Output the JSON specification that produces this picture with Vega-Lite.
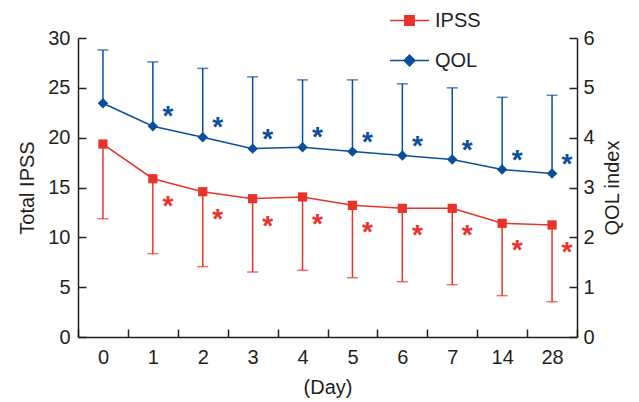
{
  "$schema": "https://vega.github.io/schema/vega-lite/v6.json",
  "width": 499,
  "height": 299,
  "autosize": {"type": "none"},
  "padding": {"left": 78, "top": 38, "right": 62, "bottom": 65},
  "background": "white",
  "config": {
    "view": {"stroke": null},
    "font": "Liberation Sans",
    "axis": {
      "grid": false,
      "domainColor": "#231f20",
      "domainWidth": 1.5,
      "tickColor": "#231f20",
      "tickWidth": 1.5,
      "tickSize": -8,
      "labelColor": "#231f20",
      "labelFontSize": 20,
      "labelFont": "Liberation Sans",
      "titleFont": "Liberation Sans",
      "titleFontSize": 20,
      "titleFontWeight": "normal",
      "titleColor": "#231f20"
    }
  },
  "data": {
    "values": [
      {"day": "0", "ipss": 19.36, "ipss_lo": 11.87, "qol": 4.69, "qol_hi": 5.76},
      {"day": "1", "ipss": 15.88, "ipss_lo": 8.36, "qol": 4.23, "qol_hi": 5.52},
      {"day": "2", "ipss": 14.58, "ipss_lo": 7.06, "qol": 4.01, "qol_hi": 5.39},
      {"day": "3", "ipss": 13.88, "ipss_lo": 6.52, "qol": 3.78, "qol_hi": 5.22},
      {"day": "4", "ipss": 14.05, "ipss_lo": 6.69, "qol": 3.81, "qol_hi": 5.16},
      {"day": "5", "ipss": 13.21, "ipss_lo": 5.95, "qol": 3.72, "qol_hi": 5.16},
      {"day": "6", "ipss": 12.91, "ipss_lo": 5.55, "qol": 3.64, "qol_hi": 5.08},
      {"day": "7", "ipss": 12.91, "ipss_lo": 5.25, "qol": 3.56, "qol_hi": 5.0},
      {"day": "14", "ipss": 11.41, "ipss_lo": 4.15, "qol": 3.36, "qol_hi": 4.81},
      {"day": "28", "ipss": 11.24, "ipss_lo": 3.54, "qol": 3.28, "qol_hi": 4.85}
    ]
  },
  "encoding": {
    "x": {
      "field": "day",
      "type": "ordinal",
      "sort": ["0", "1", "2", "3", "4", "5", "6", "7", "14", "28"],
      "scale": {"domain": ["0", "1", "2", "3", "4", "5", "6", "7", "14", "28"], "paddingInner": 0, "paddingOuter": 0},
      "axis": {"title": "(Day)", "labelAngle": 0, "tickBand": "extent", "labelPadding": 18, "titlePadding": 10}
    }
  },
  "layer": [
    {
      "layer": [
        {
          "mark": {"type": "rule", "color": "#e8332b", "strokeWidth": 1.5},
          "encoding": {
            "y": {"field": "ipss", "type": "quantitative", "scale": {"domain": [0, 30]}, "axis": {"orient": "left", "title": "Total IPSS", "values": [0, 5, 10, 15, 20, 25, 30], "labelPadding": 16, "titlePadding": 10}},
            "y2": {"field": "ipss_lo"}
          }
        },
        {
          "mark": {"type": "tick", "color": "#e8332b", "thickness": 1.5, "size": 11},
          "encoding": {
            "y": {"field": "ipss_lo", "type": "quantitative", "scale": {"domain": [0, 30]}, "axis": {"orient": "left", "title": "Total IPSS", "values": [0, 5, 10, 15, 20, 25, 30], "labelPadding": 16, "titlePadding": 10}}
          }
        },
        {
          "mark": {"type": "line", "color": "#e8332b", "strokeWidth": 1.5},
          "encoding": {
            "y": {"field": "ipss", "type": "quantitative", "scale": {"domain": [0, 30]}, "axis": {"orient": "left", "title": "Total IPSS", "values": [0, 5, 10, 15, 20, 25, 30], "labelPadding": 16, "titlePadding": 10}}
          }
        },
        {
          "mark": {"type": "point", "shape": "square", "filled": true, "opacity": 1, "size": 85, "color": "#e8332b"},
          "encoding": {
            "y": {"field": "ipss", "type": "quantitative", "scale": {"domain": [0, 30]}, "axis": {"orient": "left", "title": "Total IPSS", "values": [0, 5, 10, 15, 20, 25, 30], "labelPadding": 16, "titlePadding": 10}}
          }
        },
        {
          "transform": [{"filter": "datum.day !== '0'"}],
          "mark": {"type": "text", "text": "*", "font": "Liberation Sans", "fontSize": 28, "fontWeight": "bold", "color": "#e8332b", "baseline": "alphabetic", "align": "center", "dx": 15, "dy": 36},
          "encoding": {
            "y": {"field": "ipss", "type": "quantitative", "scale": {"domain": [0, 30]}, "axis": {"orient": "left", "title": "Total IPSS", "values": [0, 5, 10, 15, 20, 25, 30], "labelPadding": 16, "titlePadding": 10}}
          }
        }
      ]
    },
    {
      "layer": [
        {
          "mark": {"type": "rule", "color": "#0b4f9c", "strokeWidth": 1.5},
          "encoding": {
            "y": {"field": "qol", "type": "quantitative", "scale": {"domain": [0, 6]}, "axis": {"orient": "right", "title": "QOL index", "titleAngle": -90, "values": [0, 1, 2, 3, 4, 5, 6], "labelPadding": 14, "titlePadding": 28}},
            "y2": {"field": "qol_hi"}
          }
        },
        {
          "mark": {"type": "tick", "color": "#0b4f9c", "thickness": 1.5, "size": 11},
          "encoding": {
            "y": {"field": "qol_hi", "type": "quantitative", "scale": {"domain": [0, 6]}, "axis": {"orient": "right", "title": "QOL index", "titleAngle": -90, "values": [0, 1, 2, 3, 4, 5, 6], "labelPadding": 14, "titlePadding": 28}}
          }
        },
        {
          "mark": {"type": "line", "color": "#0b4f9c", "strokeWidth": 1.5},
          "encoding": {
            "y": {"field": "qol", "type": "quantitative", "scale": {"domain": [0, 6]}, "axis": {"orient": "right", "title": "QOL index", "titleAngle": -90, "values": [0, 1, 2, 3, 4, 5, 6], "labelPadding": 14, "titlePadding": 28}}
          }
        },
        {
          "mark": {"type": "point", "shape": "diamond", "filled": true, "opacity": 1, "size": 110, "color": "#0b4f9c"},
          "encoding": {
            "y": {"field": "qol", "type": "quantitative", "scale": {"domain": [0, 6]}, "axis": {"orient": "right", "title": "QOL index", "titleAngle": -90, "values": [0, 1, 2, 3, 4, 5, 6], "labelPadding": 14, "titlePadding": 28}}
          }
        },
        {
          "transform": [{"filter": "datum.day !== '0'"}],
          "mark": {"type": "text", "text": "*", "font": "Liberation Sans", "fontSize": 28, "fontWeight": "bold", "color": "#0b4f9c", "baseline": "alphabetic", "align": "center", "dx": 15, "dy": -1},
          "encoding": {
            "y": {"field": "qol", "type": "quantitative", "scale": {"domain": [0, 6]}, "axis": {"orient": "right", "title": "QOL index", "titleAngle": -90, "values": [0, 1, 2, 3, 4, 5, 6], "labelPadding": 14, "titlePadding": 28}}
          }
        }
      ]
    },
    {
      "data": {"values": [{"series": "IPSS"}, {"series": "QOL"}]},
      "transform": [{"filter": "false"}],
      "mark": {"type": "point", "filled": true},
      "encoding": {
        "x": {"value": 0},
        "color": {
          "field": "series",
          "type": "nominal",
          "scale": {"domain": ["IPSS", "QOL"], "range": ["#e8332b", "#0b4f9c"]},
          "legend": {
            "title": null,
            "orient": "none",
            "legendX": 311,
            "legendY": -38,
            "padding": 0,
            "symbolSize": 1521,
            "symbolStrokeWidth": 1.5,
            "symbolOpacity": 1,
            "labelFontSize": 20,
            "labelColor": "#231f20",
            "labelOffset": 5,
            "rowPadding": 9,
            "encode": {
              "symbols": {
                "update": {
                  "shape": {"signal": "datum.value === 'IPSS' ? 'M-1,0H1M-0.24,-0.24H0.24V0.24H-0.24Z' : 'M-1,0H1M0,-0.28L0.28,0L0,0.28L-0.28,0Z'"},
                  "stroke": {"scale": "color", "field": "value"},
                  "fill": {"scale": "color", "field": "value"},
                  "opacity": {"value": 1}
                }
              }
            }
          }
        }
      }
    }
  ],
  "resolve": {"scale": {"y": "independent"}}
}
